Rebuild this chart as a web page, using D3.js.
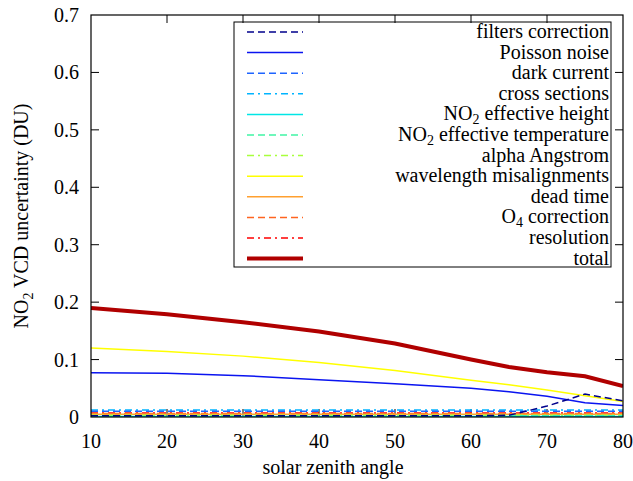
<!DOCTYPE html>
<html><head><meta charset="utf-8"><script src="https://cdn.jsdelivr.net/npm/d3@7"></script></head>
<body style="margin:0">
<svg id="s" width="633" height="481"></svg>
<script>
// ---- data ----
const sza = [10, 20, 30, 40, 50, 60, 65, 70, 75, 80];
const filtersCorrection   = [0.002, 0.002, 0.002, 0.002, 0.002, 0.002, 0.003, 0.019, 0.040, 0.028];
const poissonNoise        = [0.077, 0.076, 0.072, 0.065, 0.058, 0.050, 0.044, 0.036, 0.025, 0.020];
const darkCurrent         = [0.010, 0.010, 0.010, 0.010, 0.010, 0.010, 0.010, 0.010, 0.010, 0.010];
const crossSections       = [0.012, 0.012, 0.012, 0.012, 0.012, 0.012, 0.012, 0.012, 0.012, 0.012];
const no2EffHeight        = [0.001, 0.001, 0.001, 0.001, 0.001, 0.001, 0.001, 0.001, 0.001, 0.001];
const no2EffTemperature   = [0.002, 0.002, 0.002, 0.002, 0.002, 0.002, 0.002, 0.002, 0.002, 0.002];
const alphaAngstrom       = [0.003, 0.003, 0.003, 0.003, 0.003, 0.003, 0.003, 0.003, 0.003, 0.003];
const wavelengthMisalign  = [0.120, 0.114, 0.106, 0.095, 0.081, 0.064, 0.056, 0.047, 0.037, 0.027];
const deadTime            = [0.005, 0.005, 0.005, 0.005, 0.005, 0.005, 0.005, 0.005, 0.005, 0.005];
const o4Correction        = [0.006, 0.006, 0.006, 0.006, 0.006, 0.006, 0.006, 0.006, 0.006, 0.006];
const resolution          = [0.007, 0.007, 0.007, 0.007, 0.007, 0.007, 0.007, 0.007, 0.007, 0.007];
const total               = [0.190, 0.179, 0.165, 0.149, 0.128, 0.100, 0.087, 0.078, 0.071, 0.054];

const xTicks = [10, 20, 30, 40, 50, 60, 70, 80];
const yTicks = [0, 0.1, 0.2, 0.3, 0.4, 0.5, 0.6, 0.7];

const seriesNames = ["filters correction", "Poisson noise", "dark current", "cross sections",
  "NO2 effective height", "NO2 effective temperature", "alpha Angstrom",
  "wavelength misalignments", "dead time", "O4 correction", "resolution", "total"];
const seriesValues = [filtersCorrection, poissonNoise, darkCurrent, crossSections,
  no2EffHeight, no2EffTemperature, alphaAngstrom, wavelengthMisalign, deadTime,
  o4Correction, resolution, total];
const seriesColors = ["#00008c", "#0a14f0", "#1e64ff", "#00b4ff", "#00e6e6", "#40f5a5",
  "#a8ff3c", "#ffff00", "#ffa030", "#ff6420", "#ff0000", "#b00000"];
const seriesDash = ["7,4", null, "7,4", "7,4,2,4", null, "7,4", "7,4,2,4", null, null, "7,4", "7,4,2,4", null];
const seriesWidth = [1.5, 1.5, 1.5, 1.5, 1.5, 1.5, 1.5, 1.5, 1.5, 1.5, 1.5, 4];

const FONT = "Liberation Serif";

// ---- layout ----
const svg = d3.select("#s").style("font-family", FONT);
const L = 91, R = 623, T = 15, B = 417;
const x = d3.scaleLinear().domain([10, 80]).range([L, R]);
const y = d3.scaleLinear().domain([0, 0.7]).range([B, T]);
const tickLen = 8;

function txt(sel) {
  return sel.append("text").style("font-family", FONT).attr("font-size", 20).attr("fill", "#000");
}

// ticks (mirrored, inward)
const ax = svg.append("g").attr("stroke", "#000").attr("stroke-width", 1);
xTicks.forEach(t => {
  if (t === 10 || t === 80) return;
  ax.append("line").attr("x1", x(t)).attr("x2", x(t)).attr("y1", B).attr("y2", B - tickLen);
  ax.append("line").attr("x1", x(t)).attr("x2", x(t)).attr("y1", T).attr("y2", T + tickLen);
});
yTicks.forEach(t => {
  if (t === 0 || t === 0.7) return;
  ax.append("line").attr("x1", L).attr("x2", L + tickLen).attr("y1", y(t)).attr("y2", y(t));
  ax.append("line").attr("x1", R).attr("x2", R - tickLen).attr("y1", y(t)).attr("y2", y(t));
});

// tick labels
xTicks.forEach(d => {
  txt(svg).attr("x", x(d)).attr("y", 448).attr("text-anchor", "middle").text(d);
});
yTicks.forEach(d => {
  txt(svg).attr("x", 79).attr("y", y(d) + 7).attr("text-anchor", "end")
    .text(d === 0 ? "0" : d3.format(".1f")(d));
});

// axis labels
txt(svg).attr("x", 333).attr("y", 474).attr("text-anchor", "middle").text("solar zenith angle");
const yl = txt(svg).attr("transform", "translate(28,216) rotate(-90)").attr("text-anchor", "middle");
yl.append("tspan").text("NO");
yl.append("tspan").attr("font-size", 14).attr("dy", 5).text("2");
yl.append("tspan").attr("dy", -5).text(" VCD uncertainty (DU)");

// clip
svg.append("clipPath").attr("id", "clip").append("rect")
  .attr("x", L).attr("y", T).attr("width", R - L).attr("height", B - T);

// lines
const line = d3.line().x((d, i) => x(sza[i])).y(d => y(d));
const lines = svg.append("g").attr("clip-path", "url(#clip)");
const drawOrder = [11, 10, 9, 8, 7, 6, 5, 4, 3, 2, 1, 0];
drawOrder.forEach(i => {
  lines.append("path").datum(seriesValues[i]).attr("d", line)
    .attr("fill", "none").attr("stroke", seriesColors[i])
    .attr("stroke-width", seriesWidth[i])
    .attr("stroke-dasharray", seriesDash[i]);
});

// legend
const lg = svg.append("g");
lg.append("rect").attr("x", 234).attr("y", 22).attr("width", 377).attr("height", 245)
  .attr("fill", "none").attr("stroke", "#000").attr("stroke-width", 1);
const rowY = i => 32 + i * 20.6;
seriesNames.forEach((name, i) => {
  lg.append("line").attr("x1", 247).attr("x2", 303).attr("y1", rowY(i)).attr("y2", rowY(i))
    .attr("stroke", seriesColors[i]).attr("stroke-width", seriesWidth[i])
    .attr("stroke-dasharray", seriesDash[i]);
  const t = txt(lg).attr("x", 609).attr("y", rowY(i) + 6).attr("text-anchor", "end");
  const m = name.match(/^(NO|O)(\d)(.*)$/);
  if (m) {
    t.append("tspan").text(m[1]);
    t.append("tspan").attr("font-size", 14).attr("dy", 4).text(m[2]);
    t.append("tspan").attr("dy", -4).text(m[3]);
  } else {
    t.text(name);
  }
});

// frame
svg.append("rect").attr("x", L).attr("y", T).attr("width", R - L).attr("height", B - T)
  .attr("fill", "none").attr("stroke", "#000").attr("stroke-width", 1.2);
</script>
</body>
</html>
